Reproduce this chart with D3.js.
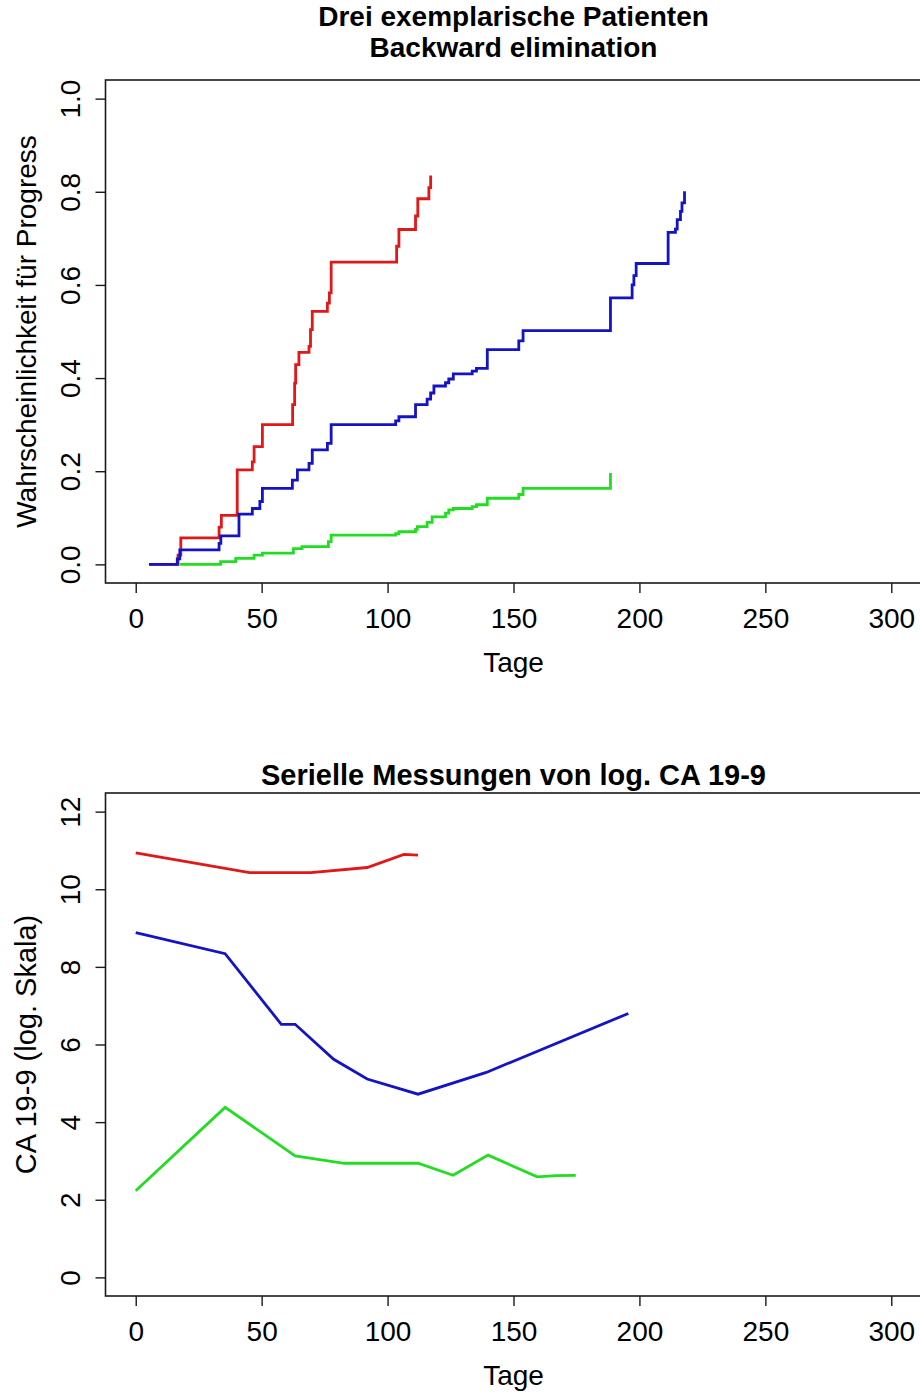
<!DOCTYPE html>
<html><head><meta charset="utf-8">
<script src="https://cdn.jsdelivr.net/npm/d3@7"></script>
<style>body{margin:0;background:#fff}svg{display:block}</style>
</head><body>
<svg id="c" width="920" height="1392"></svg>
<script>
// ---------- data ----------
const dayTicks = [0, 50, 100, 150, 200, 250, 300];
const probTicks = [0, 0.2, 0.4, 0.6, 0.8, 1.0];
const probTickLabels = ["0.0", "0.2", "0.4", "0.6", "0.8", "1.0"];
const caTicks = [0, 2, 4, 6, 8, 10, 12];
const caTickLabels = ["0", "2", "4", "6", "8", "10", "12"];

// Panel 1: step curves (probability of progress)
const redDays  = [5.3, 16.8, 17.9, 33.1, 34.0, 40.3, 46.3, 47.0, 50.3, 62.3, 63.1, 63.5, 64.8, 68.8, 69.4, 70.1, 76.1, 76.9, 77.6, 103.6, 104.5, 111.1, 112.0, 116.4, 117.1];
const redProb  = [0, 0.02, 0.057, 0.08, 0.105, 0.203, 0.22, 0.253, 0.30, 0.343, 0.389, 0.429, 0.455, 0.468, 0.504, 0.543, 0.561, 0.583, 0.649, 0.683, 0.719, 0.748, 0.785, 0.809, 0.835];
const blueDays = [5.3, 16.5, 17.5, 33.1, 33.8, 41.0, 46.3, 49.3, 50.3, 62.2, 64.2, 68.8, 70.1, 76.1, 77.6, 103.2, 104.5, 111.1, 115.7, 117.1, 118.4, 123.0, 124.3, 126.1, 133.6, 135.3, 139.6, 152.1, 153.8, 188.5, 197.1, 197.8, 198.7, 211.4, 214.3, 215.0, 216.3, 216.9, 217.9];
const blueProb = [0, 0.012, 0.031, 0.045, 0.061, 0.108, 0.12, 0.135, 0.163, 0.181, 0.203, 0.217, 0.246, 0.26, 0.30, 0.308, 0.317, 0.343, 0.355, 0.368, 0.383, 0.39, 0.398, 0.409, 0.415, 0.421, 0.461, 0.48, 0.502, 0.572, 0.60, 0.62, 0.646, 0.713, 0.72, 0.74, 0.758, 0.776, 0.801];
const greenDays = [17.6, 33.7, 39.7, 47.0, 50.3, 62.6, 66.0, 76.5, 77.6, 103.2, 104.5, 111.1, 111.8, 115.7, 117.7, 123.0, 124.3, 126.1, 133.6, 135.3, 139.6, 152.1, 153.8, 188.5];
const greenProb = [0, 0.006, 0.013, 0.02, 0.024, 0.034, 0.038, 0.049, 0.063, 0.066, 0.07, 0.075, 0.081, 0.09, 0.102, 0.11, 0.117, 0.12, 0.124, 0.128, 0.142, 0.15, 0.163, 0.196];

// Panel 2: serial log CA 19-9 measurements
const redCaDays   = [0, 45.2, 69.6, 91.9, 106.5, 112.1];
const redCa       = [10.94, 10.43, 10.43, 10.56, 10.90, 10.88];
const blueCaDays  = [0, 35.5, 57.8, 63.3, 78.6, 91.9, 112.1, 139.2, 195.6];
const blueCa      = [8.88, 8.34, 6.52, 6.52, 5.62, 5.11, 4.72, 5.28, 6.80];
const greenCaDays = [0, 35.5, 63.3, 82.8, 112.1, 126.0, 139.9, 159.4, 167.0, 174.7];
const greenCa     = [2.23, 4.38, 3.13, 2.94, 2.94, 2.63, 3.15, 2.59, 2.62, 2.63];

// ---------- drawing ----------
const FONT = "'Liberation Sans', Arial, Helvetica, sans-serif";
const COL = {red: "#e01818", blue: "#1414c4", green: "#22dd22"};
const svg = d3.select("#c");
svg.append("rect").attr("width", 920).attr("height", 1392).attr("fill", "#fff");

const L = 105.5, R = 921.5;
const x = d3.scaleLinear().domain([-12, 312]).range([L, R]);

function zip(a, b) { return a.map((d, i) => [d, b[i]]); }

function panel(opt) {
  const y = d3.scaleLinear().domain(opt.yDomain).range([opt.bottom, opt.top]);
  const g = svg.append("g");

  const line = d3.line().x(d => x(d[0])).y(d => y(d[1])).curve(opt.curve);
  opt.series.forEach(s => {
    g.append("path").attr("d", line(zip(s.x, s.y)))
      .attr("fill", "none").attr("stroke", s.color).attr("stroke-width", 2.8)
      .attr("stroke-linejoin", "miter").attr("stroke-linecap", "butt");
  });

  g.append("rect").attr("x", L).attr("y", opt.top).attr("width", R - L).attr("height", opt.bottom - opt.top)
    .attr("fill", "none").attr("stroke", "#1a1a1a").attr("stroke-width", 1.6);

  const xa = g.append("g").attr("transform", `translate(0,${opt.bottom})`)
    .call(d3.axisBottom(x).tickValues(dayTicks).tickSize(10).tickSizeOuter(0).tickFormat(d3.format("d")));
  xa.select(".domain").remove();
  xa.attr("font-size", null);
  xa.selectAll(".tick line").attr("stroke", "#1a1a1a").attr("stroke-width", 1.4);
  xa.selectAll(".tick text").attr("y", 45).attr("dy", null)
    .attr("font-family", FONT).attr("font-size", 28).attr("fill", "#000");

  const ya = g.append("g").attr("transform", `translate(${L},0)`)
    .call(d3.axisLeft(y).tickValues(opt.yTicks).tickSize(10).tickSizeOuter(0)
      .tickFormat((d, i) => opt.yLabels[i]));
  ya.select(".domain").remove();
  ya.attr("font-size", null);
  ya.selectAll(".tick line").attr("stroke", "#1a1a1a").attr("stroke-width", 1.4);
  ya.selectAll(".tick text").attr("x", null).attr("dy", null)
    .attr("transform", "translate(-26,0) rotate(-90)")
    .attr("text-anchor", "middle")
    .attr("font-family", FONT).attr("font-size", 28).attr("fill", "#000");

  g.append("text").attr("x", (L + R) / 2).attr("y", opt.bottom + 89)
    .attr("text-anchor", "middle").attr("font-family", FONT).attr("font-size", 28)
    .text(opt.xTitle);
  g.append("text").attr("transform", `translate(36,${(opt.top + opt.bottom) / 2}) rotate(-90)`)
    .attr("text-anchor", "middle").attr("font-family", FONT).attr("font-size", opt.yTitleSize)
    .text(opt.yTitle);

  opt.title.forEach((t, i) => {
    g.append("text").attr("x", (L + R) / 2).attr("y", opt.titleY[i])
      .attr("text-anchor", "middle").attr("font-family", FONT).attr("font-weight", "bold")
      .attr("font-size", opt.titleSize).text(t);
  });
}

panel({
  top: 80, bottom: 583, yDomain: [-0.04, 1.04], yTicks: probTicks, yLabels: probTickLabels,
  curve: d3.curveStepAfter,
  series: [
    {x: redDays, y: redProb, color: COL.red},
    {x: blueDays, y: blueProb, color: COL.blue},
    {x: greenDays, y: greenProb, color: COL.green}
  ],
  xTitle: "Tage", yTitle: "Wahrscheinlichkeit für Progress", yTitleSize: 28,
  title: ["Drei exemplarische Patienten", "Backward elimination"], titleY: [26, 57], titleSize: 28
});

panel({
  top: 793, bottom: 1296, yDomain: [-0.48, 12.48], yTicks: caTicks, yLabels: caTickLabels,
  curve: d3.curveLinear,
  series: [
    {x: redCaDays, y: redCa, color: COL.red},
    {x: blueCaDays, y: blueCa, color: COL.blue},
    {x: greenCaDays, y: greenCa, color: COL.green}
  ],
  xTitle: "Tage", yTitle: "CA 19-9 (log. Skala)", yTitleSize: 29,
  title: ["Serielle Messungen von log. CA 19-9"], titleY: [785], titleSize: 29
});
</script>
</body></html>
